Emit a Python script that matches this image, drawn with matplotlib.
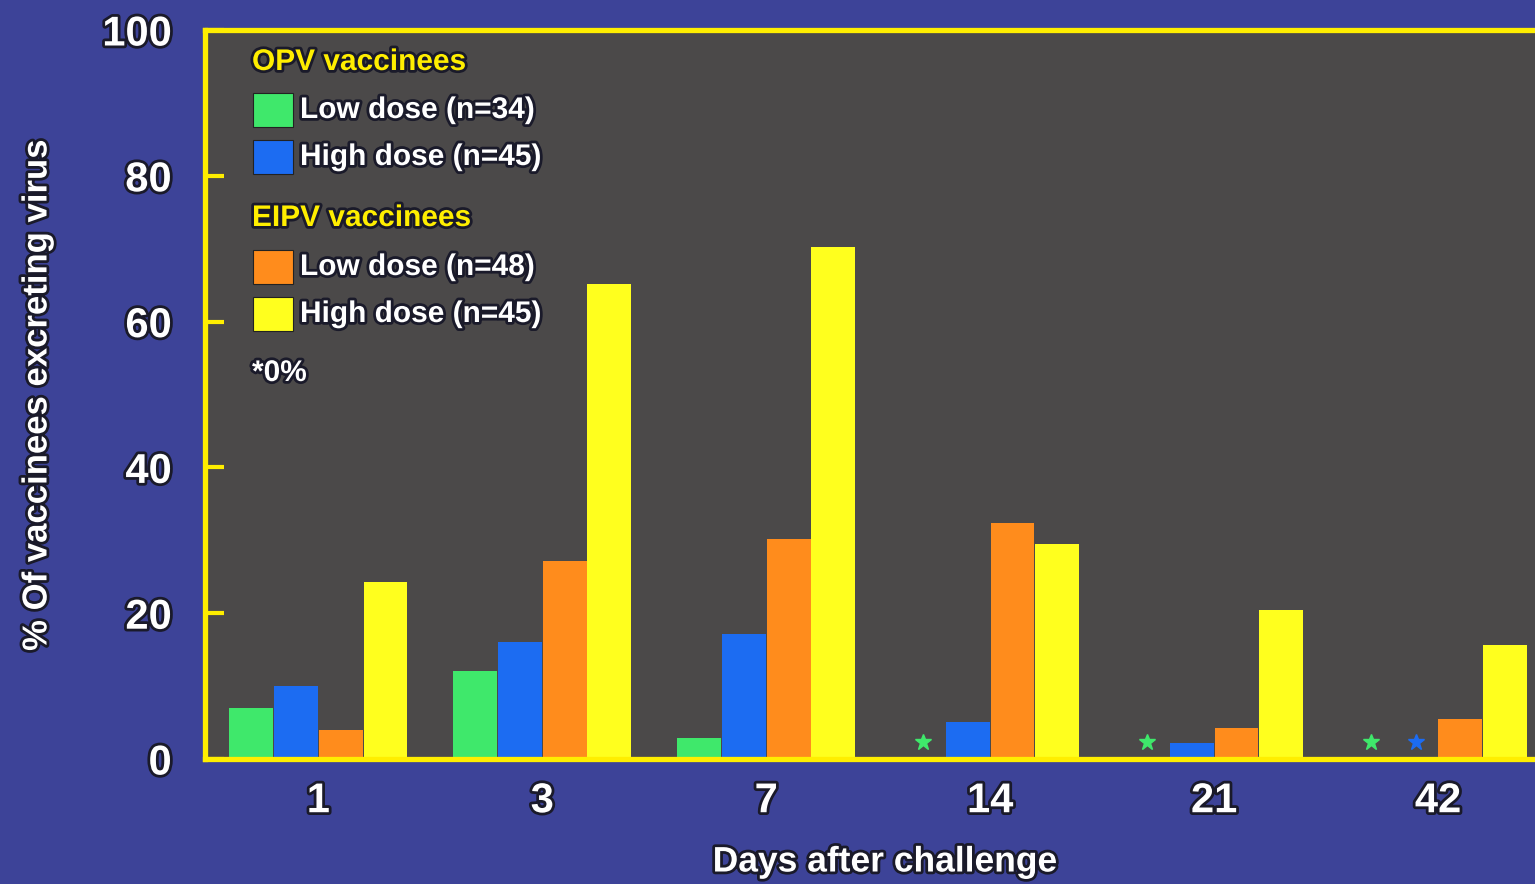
import matplotlib
matplotlib.use("Agg")
import matplotlib.pyplot as plt
import matplotlib.patheffects as pe
from matplotlib.patches import Rectangle
import numpy as np

days = ["1", "3", "7", "14", "21", "42"]
opv_low = [7.0, 12.1, 2.9, 0, 0, 0]
opv_high = [10.0, 16.0, 17.1, 5.1, 2.2, 0]
eipv_low = [4.0, 27.2, 30.2, 32.4, 4.3, 5.5]
eipv_high = [24.3, 65.2, 70.3, 29.5, 20.4, 15.6]
series_labels = ["Low dose (n=34)", "High dose (n=45)", "Low dose (n=48)", "High dose (n=45)"]

bg_blue = "#3d4398"
plot_gray = "#4b4949"
frame_yellow = "#ffee00"
colors = ["#3fe86b", "#1c6cf2", "#ff8c1c", "#ffff1e"]

outline = [pe.withStroke(linewidth=4, foreground="#1a1a2a")]
font = "Liberation Sans"

W, H = 1535, 884
fig = plt.figure(figsize=(W / 100, H / 100), dpi=100, facecolor=bg_blue)
ax = fig.add_axes([205 / W, (H - 759) / H, 1345 / W, 729 / H])
ax.set_facecolor(plot_gray)

x = np.arange(len(days))
w = 0.2
all_series = [opv_low, opv_high, eipv_low, eipv_high]
for i, vals in enumerate(all_series):
    ax.bar(x + (i - 1.5) * w, vals, w * 0.98, color=colors[i], zorder=2)
    # 0% markers
    for j, v in enumerate(vals):
        if v == 0:
            ax.plot(x[j] + (i - 1.5) * w, 2.3, marker="*", ms=12,
                    color=colors[i], mec=colors[i], zorder=3, clip_on=False)

ax.set_xlim(-0.506, 5.5)
ax.set_ylim(0, 100)
ax.set_yticks([0, 20, 40, 60, 80, 100])
ax.set_xticks(x)
ax.set_xticklabels(days)

for s in ax.spines.values():
    s.set_color(frame_yellow)
    s.set_linewidth(3.8)
    s.set_zorder(4)

ax.tick_params(axis="y", direction="in", length=14, width=3, color=frame_yellow, pad=24)
ax.tick_params(axis="x", length=0, pad=16)
for lab in ax.get_yticklabels() + ax.get_xticklabels():
    lab.set_fontsize(30)
    lab.set_fontweight("bold")
    lab.set_color("white")
    lab.set_family(font)
    lab.set_path_effects(outline)


def px(xp, yp):
    return xp / W, (H - yp) / H


lx, ly = px(37, 395)
fig.text(lx, ly, "% Of vaccinees excreting virus", fontsize=25, color="white",
         family=font, fontweight="bold", rotation=90, ha="center", va="center",
         path_effects=outline)
lx, ly = px(885, 862)
fig.text(lx, ly, "Days after challenge", fontsize=25.5, color="white",
         family=font, fontweight="bold", ha="center", va="center", path_effects=outline)


# legend drawn by hand to mimic the slide
def head(txt, yp):
    fx, fy = px(252, yp)
    fig.text(fx, fy, txt, fontsize=21.5, fontweight="bold", color=frame_yellow,
             family=font, va="center", ha="left", path_effects=outline)


def entry(txt, c, yp):
    fx, fy = px(253, yp + 17)
    fig.patches.append(Rectangle((fx, fy), 40 / W, 34 / H, transform=fig.transFigure,
                                 facecolor=c, edgecolor="#222222", lw=0.8, zorder=5))
    tx, ty = px(300, yp)
    fig.text(tx, ty, txt, fontsize=21.5, color="white", family=font, fontweight="bold",
             va="center", ha="left", path_effects=outline)


head("OPV vaccinees", 62)
entry(series_labels[0], colors[0], 110)
entry(series_labels[1], colors[1], 157)
head("EIPV vaccinees", 218)
entry(series_labels[2], colors[2], 267)
entry(series_labels[3], colors[3], 314)
fx, fy = px(252, 373)
fig.text(fx, fy, "*0%", fontsize=21.5, color="white", family=font, fontweight="bold",
         va="center", ha="left", path_effects=outline)

fig.savefig("out.png", dpi=100, facecolor=bg_blue)
